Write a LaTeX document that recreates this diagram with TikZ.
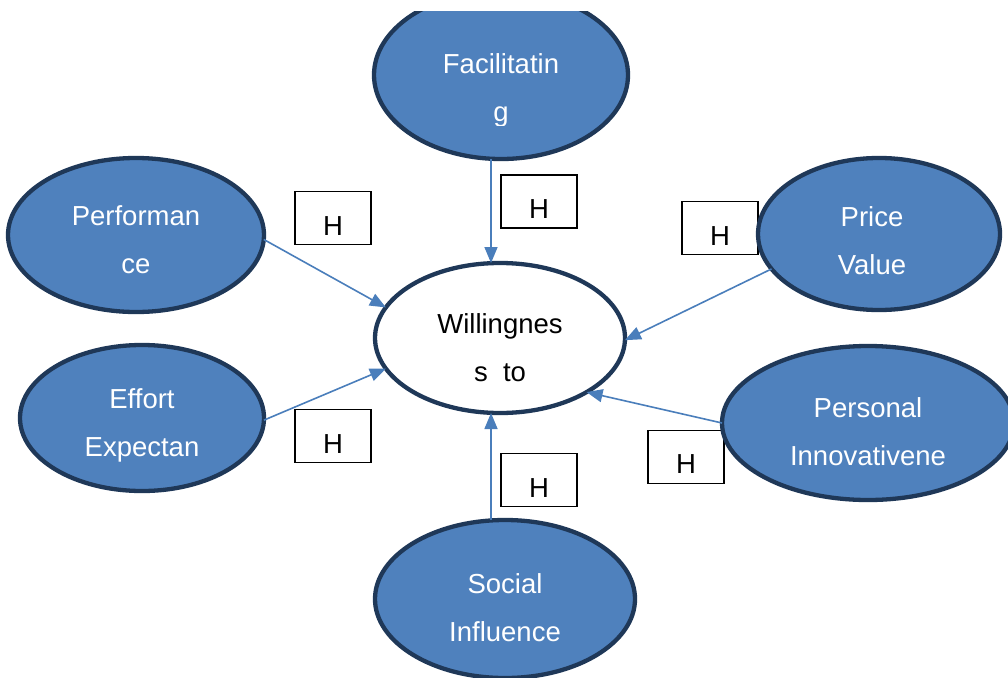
\documentclass[tikz,border=0pt]{standalone}
\usepackage{fontspec}
\setmainfont{Liberation Sans}
\usetikzlibrary{shapes.geometric,arrows.meta}
\definecolor{ellblue}{HTML}{4F81BD}
\definecolor{navy}{HTML}{1F3858}
\definecolor{arrowblue}{HTML}{4A7EBB}
\tikzset{
  ell/.style={ellipse, draw=navy, line width=4.3pt, fill=ellblue, inner sep=0pt, outer sep=0pt},
  wtxt/.style={text=white, anchor=base, font=\fontsize{27.5}{33}\selectfont, inner sep=0pt},
  btxt/.style={text=black, anchor=base, font=\fontsize{27.5}{33}\selectfont, inner sep=0pt},
  hbox/.style={draw=black, line width=1.3pt, minimum width=76pt, minimum height=53pt, inner sep=0pt},
  arr/.style={draw=arrowblue, line width=1.6pt, -{Triangle[length=16pt,width=13pt]}}
}
\begin{document}
\begin{tikzpicture}[x=1pt,y=-1pt]
\useasboundingbox[fill=white] (0,0) rectangle (1008,677);
\begin{scope}
\clip (0,12) rectangle (1008,677);
% H boxes
\node[hbox] (b1) at (333,218) {};
\node[hbox] (b2) at (539,201.5) {};
\node[hbox] (b3) at (720,228) {};
\node[hbox] (b4) at (333,436) {};
\node[hbox] (b5) at (539,480) {};
\node[hbox] (b6) at (686,457) {};
\node[btxt] (h1) at (333,235) {H};
\node[btxt] (h2) at (539,218) {H};
\node[btxt] (h3) at (720,245) {H};
\node[btxt] (h4) at (333,453) {H};
\node[btxt] (h5) at (539,497) {H};
\node[btxt] (h6) at (686,473) {H};
% ellipses
\node[ell, minimum width=254pt, minimum height=168pt] (fac) at (501,75) {};
\node[ell, minimum width=256pt, minimum height=154pt] (perf) at (136,235) {};
\node[ell, minimum width=244pt, minimum height=146pt] (eff) at (142,418) {};
\node[ell, fill=white, minimum width=250pt, minimum height=150pt] (will) at (500,338) {};
\node[ell, minimum width=242pt, minimum height=152pt] (price) at (879,234) {};
\node[ell, minimum width=292pt, minimum height=154pt] (pers) at (868,423) {};
\node[ell, minimum width=260pt, minimum height=158pt] (soc) at (505,599) {};
% texts
\begin{scope}
\clip (0,0) rectangle (1008,125);
\node[wtxt] (fac1) at (501,73) {Facilitatin};
\node[wtxt] (fac2) at (501,121) {g};
\end{scope}
\node[wtxt] (perf1) at (136,225) {Performan};
\node[wtxt] (perf2) at (136,273) {ce};
\node[wtxt] (eff1) at (142,408) {Effort};
\node[wtxt] (eff2) at (142,456) {Expectan};
\node[btxt] (will1) at (500,333) {Willingnes};
\node[btxt] (will2) at (500,381) {s~~to};
\node[wtxt] (price1) at (872,226) {Price};
\node[wtxt] (price2) at (872,274) {Value};
\node[wtxt] (pers1) at (868,417) {Personal};
\node[wtxt] (pers2) at (868,465) {Innovativene};
\node[wtxt] (soc1) at (505,593) {Social};
\node[wtxt] (soc2) at (505,641) {Influence};
% arrows
\draw[arr] (perf.-2) -- (will.165);
\draw[arr] (eff.-1) -- (will.195);
\draw[arr] ([xshift=-10pt]fac.south) -- ([xshift=-9pt]will.north);
\draw[arr] ([xshift=-14pt]soc.north) -- ([xshift=-9pt]will.south);
\draw[arr] (price.198) -- (will.-1);
\draw[arr] (pers.west) -- (will.-32);
\end{scope}
\end{tikzpicture}
\end{document}
